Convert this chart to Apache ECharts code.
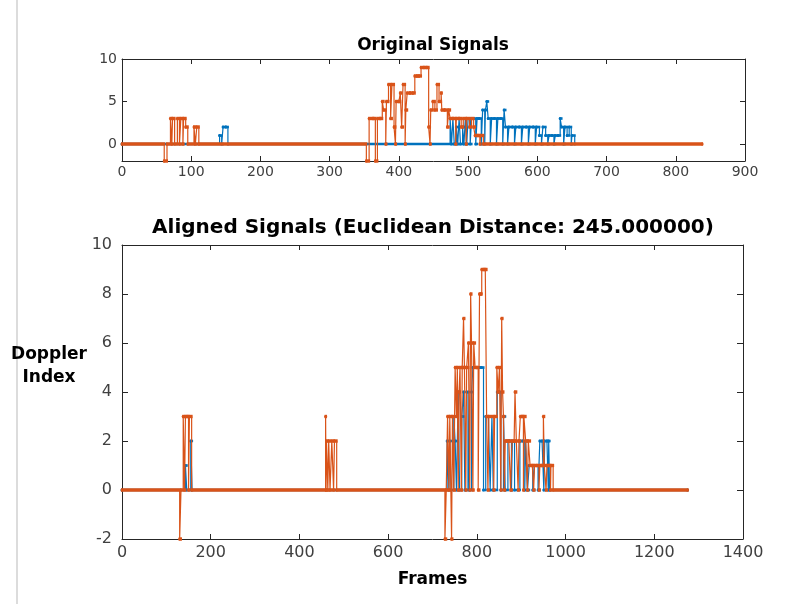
<!DOCTYPE html>
<html>
<head>
<meta charset="utf-8">
<script src="https://cdn.jsdelivr.net/npm/echarts@6/dist/echarts.min.js"></script>
<style>
html,body{margin:0;padding:0;background:#fff;}
#chart{width:805px;height:604px;}
</style>
</head>
<body>
<div id="chart"></div>
<script>
// ---- Original signals (top) ----
const origBlueFrames = [0, 141, 144, 146, 150, 153,
  474, 476, 478, 480, 483, 485, 487, 489, 492, 494, 496, 498, 500, 503, 505, 508, 511, 513, 516, 519,
  521, 524, 525, 527, 529, 532, 534, 538, 541, 543, 547, 550, 552, 554, 557, 559, 564, 567, 569, 574,
  577, 579, 584, 587, 589, 594, 597, 599, 603, 606, 608, 612, 615, 617, 621, 624, 626, 630, 633, 635,
  638, 640, 643, 646, 649, 650, 654];
const origBlueValues = [0, 1, 0, 2, 2, 0,
  3, 0, 3, 0, 2, 0, 3, 0, 2, 0, 3, 0, 3, 0, 3, 3, 0, 3, 3, 0,
  4, 0, 4, 5, 3, 0, 3, 3, 0, 3, 3, 0, 4, 2, 0, 2, 2, 0, 2, 2,
  0, 2, 2, 0, 2, 2, 0, 2, 1, 0, 2, 1, 0, 1, 1, 0, 1, 1, 3, 2,
  0, 2, 1, 2, 0, 1, 0];

const origOrangeFrames = [0, 61, 65, 70, 72, 73, 76, 80, 83, 85, 88, 89, 92, 95, 104, 106, 108, 111,
  353, 357, 363, 366, 369, 373, 376, 378, 381, 382, 385, 388, 390, 393, 395, 396, 400, 402, 404, 406,
  409, 410, 412, 416, 420, 423, 426, 429, 432, 436, 440, 443, 445, 446, 449, 452, 455, 458, 461, 462,
  466, 470, 472, 474, 478, 482, 483, 487, 490, 493, 497, 498, 502, 505, 508, 510, 514, 517, 518, 522, 838];
const origOrangeValues = [0, -2, 0, 3, 0, 3, 0, 3, 0, 3, 0, 3, 2, 0, 2, 0, 2, 0,
  -2, 3, 3, -2, 3, 3, 5, 4, 0, 5, 7, 3, 7, 2, 0, 5, 5, 6, 2, 7,
  0, 4, 6, 6, 6, 8, 8, 8, 9, 9, 9, 2, 0, 4, 5, 4, 7, 5, 6, 4,
  4, 2, 4, 3, 3, 0, 3, 3, 2, 3, 0, 3, 2, 3, 2, 1, 1, 0, 1, 0, 0];

// ---- Aligned signals (bottom) ----
const alignBlueFrames = [0, 143, 146, 155, 158,
  733, 737, 739, 742, 748, 751, 754, 758, 761, 766, 770, 773, 780, 783, 788, 791, 800, 805, 810, 815,
  820, 826, 830, 834, 837, 846, 850, 854, 860, 864, 870, 874, 878, 880, 885, 897, 903, 908, 910, 914,
  918, 922, 926, 930, 934, 938, 942, 947, 951, 953, 958, 961, 962, 964, 1275];
const alignBlueValues = [0, 1, 0, 2, 0,
  2, 0, 2, 0, 3, 2, 0, 4, 0, 3, 4, 0, 4, 0, 4, 5, 5, 5, 5, 0,
  3, 3, 0, 3, 0, 4, 4, 0, 3, 0, 2, 2, 0, 2, 0, 2, 2, 0, 2, 0,
  1, 1, 0, 1, 1, 0, 2, 2, 0, 2, 2, 0, 2, 0, 0];

const alignOrangeFrames = [0, 130, 133, 138, 141, 143, 147, 150, 152, 157,
  459, 460, 461, 464, 466, 469, 473, 477, 479, 484,
  728, 731, 734, 737, 739, 743, 745, 748, 751, 754, 756, 758, 760, 762, 765, 767, 770, 772, 775, 777,
  781, 784, 786, 788, 791, 793, 796, 800, 803, 806, 809, 811, 815, 819, 822, 825, 827, 838, 840, 845,
  848, 851, 854, 856, 858, 860, 862, 864, 867, 872, 876, 879, 884, 886, 889, 893, 895, 898, 902, 905,
  906, 910, 914, 916, 920, 925, 928, 930, 935, 940, 942, 946, 950, 952, 956, 958, 962, 966, 967, 972, 1275];
const alignOrangeValues = [0, -2, 0, 3, 0, 3, 3, 0, 3, 0,
  3, 0, 2, 0, 2, 0, 2, 0, 2, 0,
  -2, 0, 3, 0, 3, -2, 3, 0, 5, 3, 5, 0, 4, 5, 0, 5, 7, 5, 0, 5,
  6, 0, 8, 6, 0, 6, 5, 5, 0, 8, 8, 9, 9, 9, 3, 0, 3, 0, 3, 5,
  4, 5, 0, 7, 4, 3, 0, 2, 2, 2, 0, 2, 2, 4, 2, 0, 2, 3, 3, 0,
  3, 2, 0, 2, 1, 1, 0, 1, 1, 0, 1, 1, 3, 1, 0, 1, 1, 0, 1, 0, 0];

const topYTicks = [0, 5, 10];

const BLUE = '#0072BD', ORANGE = '#D95319';
const AX = '#262626', LBL = '#404040';
const FONT = 'DejaVu Sans';

function pairs(f, v) { return f.map((x, i) => [x, v[i]]); }
// horizontal segments of the stairs: [x_i, x_{i+1}, y_i]
function segs(f, v) {
  const out = [];
  for (let i = 0; i < f.length - 1; i++) out.push([f[i], f[i + 1], v[i]]);
  return out;
}

function stepSeries(name, f, v, color, ai, z) {
  return {
    name, type: 'line', step: 'end', xAxisIndex: ai, yAxisIndex: ai, z,
    data: pairs(f, v), showAllSymbol: true, symbol: 'circle', symbolSize: 3,
    lineStyle: { color, width: 1.2 }, itemStyle: { color },
    animation: false
  };
}
function capSeries(name, f, v, color, ai, w, z) {
  return {
    name: name + ' caps', type: 'custom', xAxisIndex: ai, yAxisIndex: ai, z,
    data: segs(f, v), animation: false, silent: true,
    encode: { x: [0, 1], y: 2 },
    renderItem: function (params, api) {
      const p1 = api.coord([api.value(0), api.value(2)]);
      const p2 = api.coord([api.value(1), api.value(2)]);
      return {
        type: 'line',
        shape: { x1: p1[0] - 1, y1: p1[1], x2: p2[0] + 1, y2: p2[1] },
        style: { stroke: color, lineWidth: w }
      };
    }
  };
}

function xAx(grid, min, max, interval, pos, show, fs, margin, extra) {
  return Object.assign({
    type: 'value', gridIndex: grid, min, max, interval, position: pos,
    axisLine: { show: true, onZero: false, lineStyle: { color: AX, width: 1 } },
    axisTick: { show: true, inside: true, length: 5, lineStyle: { color: AX } },
    axisLabel: { show, color: LBL, fontSize: fs, fontFamily: FONT, margin, formatter: v => String(v) },
    splitLine: { show: false }
  }, extra || {});
}

const chart = echarts.init(document.getElementById('chart'), null, { renderer: 'canvas' });
chart.setOption({
  backgroundColor: '#fff',
  animation: false,
  grid: [
    { left: 122, top: 59, width: 623, height: 102 },
    { left: 122, top: 245, width: 621, height: 294 }
  ],
  xAxis: [
    xAx(0, 0, 900, 100, 'bottom', true, 14, 4),
    xAx(1, 0, 1400, 200, 'bottom', true, 16, 6, {
      name: 'Frames', nameLocation: 'middle', nameGap: 32,
      nameTextStyle: { color: '#000', fontSize: 17, fontWeight: 'bold', fontFamily: FONT }
    }),
    xAx(0, 0, 900, 100, 'top', false, 14, 4),
    xAx(1, 0, 1400, 200, 'top', false, 16, 6)
  ],
  yAxis: [
    {
      type: 'value', gridIndex: 0, min: -2, max: 10, position: 'left',
      axisLine: { show: true, onZero: false, lineStyle: { color: AX } },
      axisTick: { show: true, inside: true, length: 5, customValues: topYTicks, lineStyle: { color: AX } },
      axisLabel: { color: LBL, fontSize: 14, fontFamily: FONT, margin: 5, customValues: topYTicks },
      splitLine: { show: false }
    },
    {
      type: 'value', gridIndex: 1, min: -2, max: 10, interval: 2, position: 'left',
      axisLine: { show: true, onZero: false, lineStyle: { color: AX } },
      axisTick: { show: true, inside: true, length: 6, lineStyle: { color: AX } },
      axisLabel: { color: LBL, fontSize: 16, fontFamily: FONT, margin: 10 },
      splitLine: { show: false }
    },
    {
      type: 'value', gridIndex: 0, min: -2, max: 10, position: 'right',
      axisLine: { show: true, onZero: false, lineStyle: { color: AX } },
      axisTick: { show: true, inside: true, length: 5, customValues: topYTicks, lineStyle: { color: AX } },
      axisLabel: { show: false, customValues: topYTicks },
      splitLine: { show: false }
    },
    {
      type: 'value', gridIndex: 1, min: -2, max: 10, interval: 2, position: 'right',
      axisLine: { show: true, onZero: false, lineStyle: { color: AX } },
      axisTick: { show: true, inside: true, length: 6, lineStyle: { color: AX } },
      axisLabel: { show: false },
      splitLine: { show: false }
    }
  ],
  series: [
    stepSeries('Original 1', origBlueFrames, origBlueValues, BLUE, 0, 2),
    capSeries('Original 1', origBlueFrames, origBlueValues, BLUE, 0, 2.6, 3),
    stepSeries('Original 2', origOrangeFrames, origOrangeValues, ORANGE, 0, 4),
    capSeries('Original 2', origOrangeFrames, origOrangeValues, ORANGE, 0, 3.4, 5),
    stepSeries('Aligned 1', alignBlueFrames, alignBlueValues, BLUE, 1, 2),
    capSeries('Aligned 1', alignBlueFrames, alignBlueValues, BLUE, 1, 2.6, 3),
    stepSeries('Aligned 2', alignOrangeFrames, alignOrangeValues, ORANGE, 1, 4),
    capSeries('Aligned 2', alignOrangeFrames, alignOrangeValues, ORANGE, 1, 3.4, 5)
  ],
  graphic: [
    { type: 'rect', shape: { x: 16, y: 0, width: 2, height: 604 }, style: { fill: '#dcdcdc' }, silent: true },
    { type: 'text', x: 433, y: 46, style: { text: 'Original Signals', font: 'bold 17px "DejaVu Sans"', fill: '#000', textAlign: 'center', textVerticalAlign: 'middle' } },
    { type: 'text', x: 433, y: 228, style: { text: 'Aligned Signals (Euclidean Distance: 245.000000)', font: 'bold 20px "DejaVu Sans"', fill: '#000', textAlign: 'center', textVerticalAlign: 'middle' } },
    { type: 'text', x: 49, y: 366, style: { text: 'Doppler\nIndex', font: 'bold 17px "DejaVu Sans"', fill: '#000', textAlign: 'center', textVerticalAlign: 'middle', lineHeight: 23 } }
  ]
});
</script>
</body>
</html>
